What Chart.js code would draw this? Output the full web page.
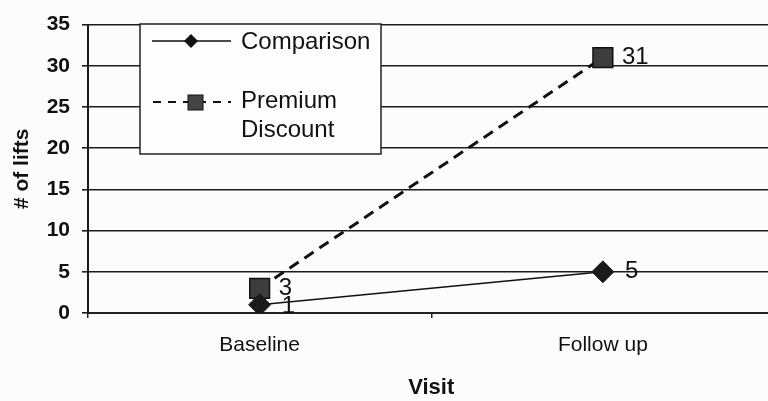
<!DOCTYPE html>
<html>
<head>
<meta charset="utf-8">
<script src="https://cdn.jsdelivr.net/npm/chart.js@4/dist/chart.umd.min.js"></script>
<style>
  html, body { margin: 0; padding: 0; background: #fcfcfc; overflow: hidden; }
  #c { width: 790px; height: 401px; }
</style>
</head>
<body>
<canvas id="c" width="790" height="401"></canvas>
<script>
// Visits on the x axis
const visits = ['Baseline', 'Follow up'];
// Number of lifts per group
const comparison = [1, 5];
const premiumDiscount = [3, 31];
const seriesNames = ['Comparison', 'Premium Discount'];
const yTicks = [0, 5, 10, 15, 20, 25, 30, 35];

const FONT = 'Arial, "Liberation Sans", sans-serif';

// Point value labels beside each marker
const valueLabels = {
  id: 'valueLabels',
  afterDatasetsDraw(chart) {
    const ctx = chart.ctx;
    ctx.save();
    ctx.fillStyle = '#111';
    ctx.font = '24px ' + FONT;
    ctx.textAlign = 'left';
    ctx.textBaseline = 'middle';
    chart.data.datasets.forEach((ds, di) => {
      const meta = chart.getDatasetMeta(di);
      meta.data.forEach((pt, i) => {
        const dx = di === 0 ? 22 : 19;
        const dy = (di === 0 && i === 0) ? 2 : 0;
        ctx.fillText(String(ds.data[i]), pt.x + dx, pt.y + dy);
      });
    });
    ctx.restore();
  }
};

// Boxed legend inside the plot area
const boxLegend = {
  id: 'boxLegend',
  afterDraw(chart) {
    const ctx = chart.ctx;
    const bx = 140, by = 24, bw = 241, bh = 130;
    ctx.save();
    ctx.fillStyle = '#fdfdfd';
    ctx.fillRect(bx, by, bw, bh);
    ctx.strokeStyle = '#222';
    ctx.lineWidth = 1.5;
    ctx.strokeRect(bx, by, bw, bh);

    ctx.font = '24px ' + FONT;
    ctx.fillStyle = '#111';
    ctx.textAlign = 'left';
    ctx.textBaseline = 'middle';
    const ds = chart.data.datasets;

    // Comparison entry
    let y = 41;
    ctx.strokeStyle = '#111';
    ctx.lineWidth = 1.5;
    ctx.setLineDash([]);
    ctx.beginPath(); ctx.moveTo(152, y); ctx.lineTo(231, y); ctx.stroke();
    ctx.fillStyle = '#111';
    ctx.beginPath();
    ctx.moveTo(191, y - 7); ctx.lineTo(198, y); ctx.lineTo(191, y + 7); ctx.lineTo(184, y);
    ctx.closePath(); ctx.fill();
    ctx.fillText(ds[0].label, 241, y + 1);

    // Premium Discount entry
    y = 102;
    ctx.lineWidth = 2;
    ctx.setLineDash([8, 7]);
    ctx.beginPath(); ctx.moveTo(153, y); ctx.lineTo(231, y); ctx.stroke();
    ctx.setLineDash([]);
    ctx.fillStyle = '#444';
    ctx.fillRect(188, y - 7, 15, 15);
    ctx.strokeStyle = '#111';
    ctx.lineWidth = 1;
    ctx.strokeRect(188, y - 7, 15, 15);
    ctx.fillStyle = '#111';
    const words = ds[1].label.split(' ');
    ctx.fillText(words[0], 241, 101);
    ctx.fillText(words.slice(1).join(' '), 241, 130);
    ctx.restore();
  }
};

new Chart(document.getElementById('c'), {
  type: 'line',
  data: {
    labels: visits,
    datasets: [
      {
        label: seriesNames[0],
        data: comparison,
        borderColor: '#111',
        borderWidth: 1.6,
        pointStyle: 'rectRot',
        pointRadius: 11,
        pointBackgroundColor: '#1a1a1a',
        pointBorderColor: '#1a1a1a',
        pointBorderWidth: 1,
        tension: 0,
        order: 1
      },
      {
        label: seriesNames[1],
        data: premiumDiscount,
        borderColor: '#111',
        borderWidth: 3,
        borderDash: [11, 7],
        pointStyle: 'rect',
        pointRadius: 14,
        pointBackgroundColor: '#3d3d3d',
        pointBorderColor: '#111',
        pointBorderWidth: 1.5,
        tension: 0,
        order: 2
      }
    ]
  },
  options: {
    responsive: false,
    animation: false,
    layout: { padding: { left: 0, top: 18, right: 4, bottom: 0 } },
    plugins: {
      legend: { display: false },
      tooltip: { enabled: false }
    },
    scales: {
      x: {
        offset: true,
        grid: {
          offset: true,
          drawOnChartArea: false,
          drawTicks: true,
          tickLength: 5,
          color: '#222',
          lineWidth: 1.5
        },
        border: { color: '#222', width: 2 },
        ticks: {
          color: '#111',
          font: { family: FONT, size: 21 },
          padding: 15
        },
        title: {
          display: true,
          text: 'Visit',
          color: '#111',
          font: { family: FONT, size: 22, weight: 'bold' },
          padding: { top: 10, bottom: 0 }
        },
        afterFit(scale) { scale.height = 88; }
      },
      y: {
        min: 0,
        max: 35,
        afterBuildTicks(scale) { scale.ticks = yTicks.map(v => ({ value: v })); },
        grid: {
          color: '#1c1c1c',
          lineWidth: 1.6,
          tickLength: 6
        },
        border: { color: '#1c1c1c', width: 2 },
        ticks: {
          color: '#111',
          font: { family: FONT, size: 21, weight: 'bold' },
          padding: 12
        },
        title: {
          display: true,
          text: '# of lifts',
          color: '#111',
          font: { family: FONT, size: 21, weight: 'bold' },
          padding: { top: 10, bottom: 0 }
        },
        afterFit(scale) { scale.width = 88; }
      }
    }
  },
  plugins: [valueLabels, boxLegend]
});
</script>
</body>
</html>
